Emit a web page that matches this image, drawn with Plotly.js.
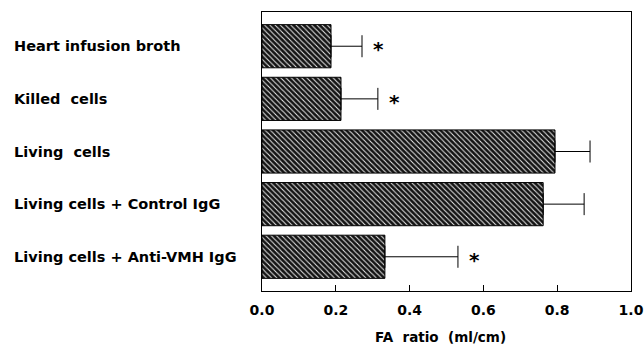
<!DOCTYPE html>
<html><head><meta charset="utf-8">
<script src="https://cdn.plot.ly/plotly-3.0.1.min.js"></script>
<style>html,body{margin:0;padding:0;background:#fff}#chart{width:644px;height:354px}</style>
</head><body><div id="chart"></div>
<script>
const categories = ["Heart infusion broth", "Killed\u00a0 cells", "Living\u00a0 cells", "Living cells + Control IgG", "Living cells + Anti-VMH IgG"];
const values = [0.187, 0.214, 0.794, 0.762, 0.333];
const errors = [0.084, 0.100, 0.095, 0.111, 0.198];
const significant = [true, true, false, false, true];
const tickVals = [0, 0.2, 0.4, 0.6, 0.8, 1.0];
const tickText = ["0.0", "0.2", "0.4", "0.6", "0.8", "1.0"];

const FONT = "DejaVu Sans, Verdana, sans-serif";

const trace = {
  type: "bar", orientation: "h",
  x: values, y: categories,
  width: 0.82,
  marker: {
    color: "#141414",
    line: {color: "#000", width: 1},
    pattern: {shape: "\\", fgcolor: "#e8e8e8", bgcolor: "#141414", size: 3.7, solidity: 0.28, fillmode: "replace"}
  },
  error_x: {type: "data", array: errors, arrayminus: errors.map(() => 0), symmetric: false, color: "#000", thickness: 1, width: 11},
  hoverinfo: "none"
};

const annotations = [];
categories.forEach((c, i) => {
  annotations.push({xref: "paper", yref: "y", x: -0.678, y: c, xanchor: "left", yanchor: "middle",
    text: c, showarrow: false, font: {family: FONT, size: 14.5, color: "#000", weight: "bold"}});
  if (significant[i]) {
    annotations.push({xref: "x", yref: "y", x: values[i] + errors[i] + 0.044, y: c, xanchor: "center", yanchor: "middle",
      text: "*", showarrow: false, yshift: -3, font: {family: FONT, size: 20, color: "#000", weight: "bold"}});
  }
});
annotations.push({xref: "paper", yref: "paper", x: 0.483, y: -0.165, xanchor: "center", yanchor: "middle",
  text: "FA\u00a0 ratio\u00a0 (ml/cm)", showarrow: false, font: {family: FONT, size: 13.5, color: "#000", weight: "bold"}});

const layout = {
  width: 644, height: 354,
  margin: {l: 262, r: 13, t: 12, b: 63},
  paper_bgcolor: "#fff", plot_bgcolor: "#fff",
  showlegend: false,
  xaxis: {range: [0, 1.0], tickvals: tickVals, ticktext: tickText, ticks: "inside", ticklen: 6, tickwidth: 1, tickcolor: "#000",
    showline: true, linecolor: "#000", linewidth: 1, mirror: true, showgrid: false, zeroline: false,
    tickfont: {family: FONT, size: 14, color: "#000", weight: "bold"}, ticklabelstandoff: 6, ticklabeloverflow: "allow"},
  yaxis: {type: "category", range: [4.65, -0.65], showticklabels: false, ticks: "",
    showline: true, linecolor: "#000", linewidth: 1, mirror: true, showgrid: false, zeroline: false},
  annotations: annotations
};

Plotly.newPlot("chart", [trace], layout, {displayModeBar: false, staticPlot: true});
</script></body></html>
